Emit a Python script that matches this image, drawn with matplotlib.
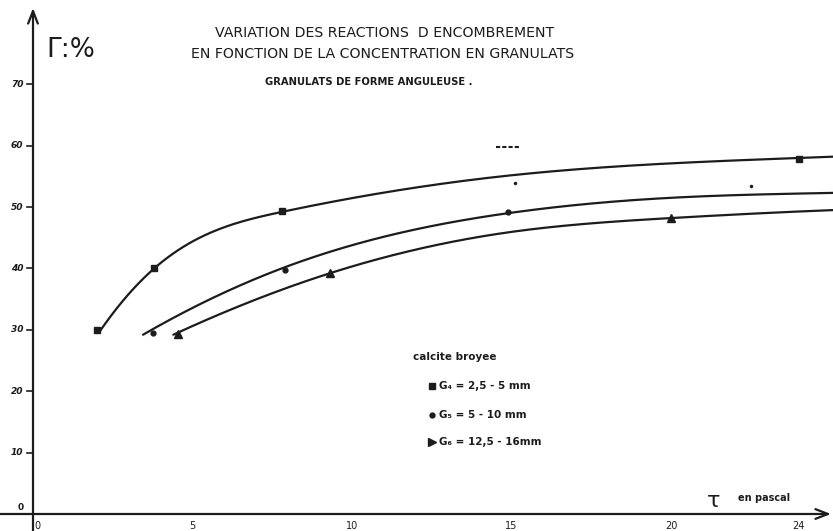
import numpy as np
import matplotlib
matplotlib.use("Agg")
import matplotlib.pyplot as plt

# Measured points (tau in pascal, Gamma in %)
g4_x = [2.0, 3.8, 7.8, 24.0]
g4_y = [30.0, 40.0, 49.3, 57.8]
g5_x = [3.75, 7.9, 14.9]
g5_y = [29.4, 39.7, 49.2]
g6_x = [4.55, 9.3, 20.0]
g6_y = [29.3, 39.2, 48.2]

# Hand-traced fitted curves: knots plus start/end slopes
g4_curve_x = [2.1, 3.8, 7.8, 14.7, 25.1]
g4_curve_y = [29.8, 40.0, 49.2, 55.0, 58.2]
g4_curve_slopes = (7.5, 0.2)
g5_curve_x = [3.45, 7.9, 14.9, 20.0, 25.1]
g5_curve_y = [29.2, 40.2, 49.0, 51.5, 52.3]
g5_curve_slopes = (3.0, 0.1)
g6_curve_x = [4.4, 9.3, 14.8, 20.0, 25.1]
g6_curve_y = [29.2, 39.2, 45.8, 48.2, 49.5]
g6_curve_slopes = (2.4, 0.2)

x_ticks = [0, 5, 10, 15, 20, 24]
y_ticks = [10, 20, 30, 40, 50, 60, 70]

legend_title = "calcite broyee"
legend_labels = ["G₄ = 2,5 - 5 mm", "G₅ = 5 - 10 mm", "G₆ = 12,5 - 16mm"]

INK = "#1c1c1c"
PX_X, PX_Y = 31.9, 6.14   # pixels per unit on each axis
X0, Y0 = 33, 514          # pixel position of the origin


def px(x, y):
    """Pixel position on the sheet -> data coordinates."""
    return (x - X0) / PX_X, (Y0 - y) / PX_Y


def clamped_spline(xs, ys, slopes, n=400):
    """Cubic spline through the knots with given end slopes."""
    x = np.asarray(xs, float)
    y = np.asarray(ys, float)
    s0, s1 = slopes
    k = len(x)
    h = np.diff(x)
    A = np.zeros((k, k))
    b = np.zeros(k)
    A[0, 0], A[0, 1] = 2 * h[0], h[0]
    b[0] = 6 * ((y[1] - y[0]) / h[0] - s0)
    A[-1, -2], A[-1, -1] = h[-1], 2 * h[-1]
    b[-1] = 6 * (s1 - (y[-1] - y[-2]) / h[-1])
    for i in range(1, k - 1):
        A[i, i - 1] = h[i - 1]
        A[i, i] = 2 * (h[i - 1] + h[i])
        A[i, i + 1] = h[i]
        b[i] = 6 * ((y[i + 1] - y[i]) / h[i] - (y[i] - y[i - 1]) / h[i - 1])
    m = np.linalg.solve(A, b)
    xx = np.linspace(x[0], x[-1], n)
    i = np.clip(np.searchsorted(x, xx) - 1, 0, k - 2)
    hh = h[i]
    t1, t2 = x[i + 1] - xx, xx - x[i]
    yy = (m[i] * t1 ** 3 / (6 * hh) + m[i + 1] * t2 ** 3 / (6 * hh)
          + (y[i] / hh - m[i] * hh / 6) * t1
          + (y[i + 1] / hh - m[i + 1] * hh / 6) * t2)
    return xx, yy


fig = plt.figure(figsize=(8.33, 5.31), dpi=100)
ax = fig.add_axes([0, 0, 1, 1])
ax.axis("off")
ax.set_xlim(-X0 / PX_X, (833 - X0) / PX_X)
ax.set_ylim((Y0 - 531) / PX_Y, Y0 / PX_Y)

# axes with arrowheads
arrow = dict(arrowstyle="->,head_length=0.9,head_width=0.35",
             lw=1.6, color=INK, shrinkA=0, shrinkB=0)
ax.annotate("", xy=px(831, Y0), xytext=px(0, Y0), arrowprops=arrow)
ax.annotate("", xy=px(X0, 8), xytext=px(X0, 531), arrowprops=arrow)

for v in y_ticks:
    ax.plot([-0.18, 0], [v, v], color=INK, lw=1.2)
    ax.text(-0.3, v, str(v), ha="right", va="center", fontsize=6.5,
            fontweight="bold", fontstyle="italic", color=INK)
ax.text(-0.3, 1.1, "0", ha="right", va="center", fontsize=6.5,
        fontweight="bold", color=INK)
for v in x_ticks:
    ax.text(v + (0.15 if v == 0 else 0), -1.9, str(v), ha="center",
            va="center", fontsize=7, color=INK)

# curves
for cx, cy, sl in [(g4_curve_x, g4_curve_y, g4_curve_slopes),
                   (g5_curve_x, g5_curve_y, g5_curve_slopes),
                   (g6_curve_x, g6_curve_y, g6_curve_slopes)]:
    sx, sy = clamped_spline(cx, cy, sl)
    ax.plot(sx, sy, color=INK, lw=1.6, solid_capstyle="round")

ax.plot(g4_x, g4_y, ls="none", marker="s", ms=5, color=INK)
ax.plot(g5_x, g5_y, ls="none", marker="o", ms=3.5, color=INK)
ax.plot(g6_x, g6_y, ls="none", marker="^", ms=6, color=INK)

# stray marks on the sheet
ax.plot([14.5, 15.3], [59.8, 59.8], ls=(0, (2, 1)), lw=1.5, color=INK)
ax.plot([22.5, 15.1], [53.4, 53.9], ls="none", marker="o", ms=1.5, color=INK)

# titles
ax.text(*px(385, 33), "VARIATION DES REACTIONS  D ENCOMBREMENT",
        ha="center", va="center", fontsize=10.2, color=INK)
ax.text(*px(383, 54), "EN FONCTION DE LA CONCENTRATION EN GRANULATS",
        ha="center", va="center", fontsize=10.2, color=INK)
ax.text(*px(369, 82), "GRANULATS DE FORME ANGULEUSE .",
        ha="center", va="center", fontsize=7.2, fontweight="bold", color=INK)

ax.text(*px(46, 50), "Γ:%", ha="left", va="center", fontsize=19, color=INK)

ax.text(*px(714, 501), "τ", ha="center", va="center", fontsize=16, color=INK)
ax.text(*px(738, 498), "en pascal", ha="left", va="center", fontsize=7,
        fontweight="bold", color=INK)

# legend
ax.text(*px(413, 357), legend_title, ha="left", va="center", fontsize=7.5,
        fontweight="bold", color=INK)
leg_marks = ["s", "o", ">"]
leg_sizes = [4.5, 3.5, 6]
leg_y = [386, 415, 442]
for m, ms, py, lab in zip(leg_marks, leg_sizes, leg_y, legend_labels):
    lx, ly = px(432, py)
    ax.plot([lx], [ly], marker=m, ms=ms, color=INK, ls="none")
    ax.text(*px(439, py), lab, ha="left", va="center", fontsize=7.5,
            fontweight="bold", color=INK)

fig.savefig("out.png", dpi=100, facecolor="white")
